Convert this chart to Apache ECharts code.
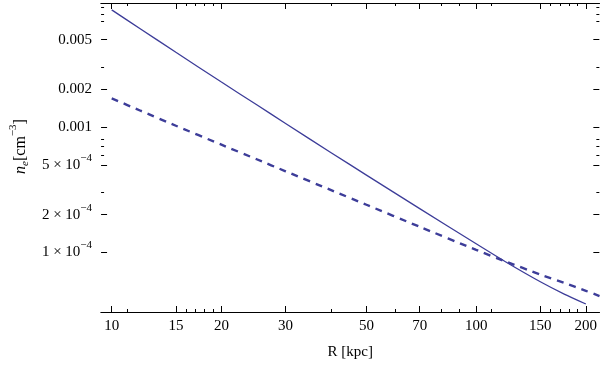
<!DOCTYPE html>
<html>
<head>
<meta charset="utf-8">
<script src="https://cdn.jsdelivr.net/npm/echarts@6/dist/echarts.min.js"></script>
<style>
  html, body { margin: 0; padding: 0; background: #fff; }
  #chart { width: 600px; height: 365px; }
</style>
</head>
<body>
<div id="chart"></div>
<script>
// radius in kpc, electron density in cm^-3
var radii = [10, 12, 15, 20, 25, 30, 40, 50, 70, 100, 120, 150, 175, 200, 218];
var solidNe = [0.00864, 0.00608, 0.00396, 0.00229, 0.001507, 0.00107, 6.25e-4, 4.14e-4,
  2.235e-4, 1.17e-4, 8.45e-5, 5.82e-5, 4.62e-5, 3.87e-5, null];
var dashedNe = [0.001698, 0.001352, 0.001026, 7.24e-4, 5.54e-4, 4.44e-4, 3.14e-4, 2.4e-4,
  1.6e-4, 1.047e-4, 8.49e-5, 6.65e-5, 5.68e-5, 4.93e-5, 4.48e-5];

var xMajor = [10, 15, 20, 30, 50, 70, 100, 150, 200];
var xMinor = [11, 16, 17, 18, 19, 40, 60, 80, 90, 110, 160, 170, 180, 190];
var yMajor = [0.005, 0.002, 0.001, 5e-4, 2e-4, 1e-4];
var yMinor = [0.009, 0.008, 0.007, 0.003, 8e-4, 7e-4, 6e-4, 3e-4];
var yLabelBase = ['0.005', '0.002', '0.001', '5 × 10', '2 × 10', '1 × 10'];
var yLabelExp = ['', '', '', '−4', '−4', '−4'];

var xRange = [9.35, 217.8];
var yRange = [3.34e-5, 0.0098];

var lg = Math.log10;
var lineColor = '#3d3d99';
var font = 'Liberation Serif';

function toPairs(ys) {
  var out = [];
  for (let i = 0; i < radii.length; i++) {
    if (ys[i] != null) out.push([lg(radii[i]), lg(ys[i])]);
  }
  return out;
}

function xAxisDef (pos, ticks, len, labels) {
  return {
    type: 'value',
    position: pos,
    min: lg(xRange[0]),
    max: lg(xRange[1]),
    splitLine: { show: false },
    axisLine: { show: true, onZero: false, lineStyle: { color: '#000', width: 1 } },
    axisTick: { show: true, inside: true, length: len, customValues: ticks.map(lg),
      lineStyle: { color: '#000', width: 1 } },
    axisLabel: labels ? {
      show: true,
      customValues: xMajor.map(lg),
      margin: 7,
      fontFamily: font,
      fontSize: 15,
      color: '#000',
      formatter: function (v) { return String(Math.round(Math.pow(10, v))); }
    } : { show: false }
  };
}

function yAxisDef (pos, ticks, len, labels) {
  return {
    type: 'value',
    position: pos,
    min: lg(yRange[0]),
    max: lg(yRange[1]),
    splitLine: { show: false },
    axisLine: { show: false },
    axisTick: { show: true, inside: true, length: len, customValues: ticks.map(lg),
      lineStyle: { color: '#000', width: 1 } },
    axisLabel: labels ? {
      show: true,
      customValues: yMajor.map(lg),
      margin: 9,
      color: '#000',
      formatter: function (v) {
        var i = yMajor.findIndex(function (t) { return Math.abs(lg(t) - v) < 1e-6; });
        if (i < 0) return '';
        if (!yLabelExp[i]) return '{b|' + yLabelBase[i] + '}';
        return '{b|' + yLabelBase[i] + '}{sup|' + yLabelExp[i] + '}';
      },
      rich: {
        b: { fontFamily: font, fontSize: 15, lineHeight: 15, verticalAlign: 'bottom', color: '#000' },
        sup: { fontFamily: font, fontSize: 11, lineHeight: 11, verticalAlign: 'bottom',
          padding: [0, 0, 9, 0], color: '#000' }
      }
    } : { show: false }
  };
}

var chart = echarts.init(document.getElementById('chart'));

var xMain = xAxisDef('bottom', xMajor, 6, true);
xMain.name = 'R [kpc]';
xMain.nameLocation = 'middle';
xMain.nameGap = 33;
xMain.nameTextStyle = { fontFamily: font, fontSize: 15, color: '#000' };

var yMain = yAxisDef('left', yMajor, 6, true);
yMain.name = '{n|n}{sub|e}{t|[cm}{sup|−3}{t|]}';
yMain.nameLocation = 'middle';
yMain.nameGap = 68;
yMain.nameTextStyle = {
  padding: [0, 0, 0, 22],
  rich: {
    n: { fontFamily: font, fontStyle: 'italic', fontSize: 16, lineHeight: 16, verticalAlign: 'top', padding: [5, 0, 0, 0], color: '#000' },
    sub: { fontFamily: font, fontStyle: 'italic', fontSize: 11, lineHeight: 11, verticalAlign: 'top', padding: [12, 0, 0, 0], color: '#000' },
    t: { fontFamily: font, fontSize: 16, lineHeight: 16, verticalAlign: 'top', padding: [5, 0, 0, 0], color: '#000' },
    sup: { fontFamily: font, fontSize: 11, lineHeight: 11, verticalAlign: 'top', color: '#000' }
  }
};

var option = {
  animation: false,
  backgroundColor: '#fff',
  grid: { left: 97, right: 0, top: 3, bottom: 51, containLabel: false },
  xAxis: [
    xMain,
    xAxisDef('bottom', xMinor, 3, false),
    xAxisDef('top', xMajor, 6, false),
    xAxisDef('top', xMinor, 3, false)
  ],
  yAxis: [
    yMain,
    yAxisDef('left', yMinor, 3, false),
    yAxisDef('right', yMajor, 6, false),
    yAxisDef('right', yMinor, 3, false)
  ],
  series: [
    {
      name: 'solid',
      type: 'line',
      xAxisIndex: 0,
      yAxisIndex: 0,
      data: toPairs(solidNe),
      showSymbol: false,
      smooth: 0.2,
      lineStyle: { color: lineColor, width: 1.3 }
    },
    {
      name: 'dashed',
      type: 'line',
      xAxisIndex: 0,
      yAxisIndex: 0,
      data: toPairs(dashedNe),
      showSymbol: false,
      smooth: 0.2,
      lineStyle: { color: lineColor, width: 2.4, type: [7, 6] }
    }
  ]
};

chart.setOption(option);
</script>
</body>
</html>
